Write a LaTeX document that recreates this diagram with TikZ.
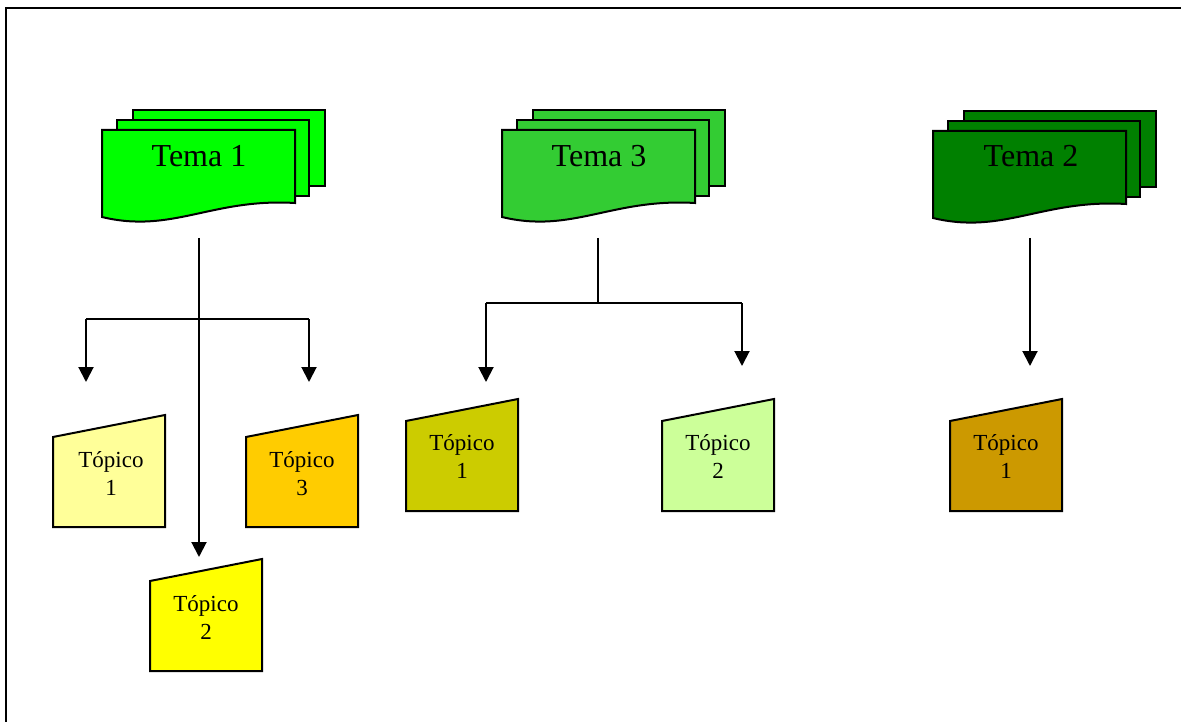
\documentclass[tikz,border=0pt]{standalone}
\usepackage{fontspec}
\setmainfont{Liberation Serif}
\usetikzlibrary{arrows.meta}
\definecolor{temaA}{HTML}{00FF00}
\definecolor{temaB}{HTML}{33CC33}
\definecolor{temaC}{HTML}{008000}
\definecolor{topA}{HTML}{FFFF99}
\definecolor{topB}{HTML}{FFFF00}
\definecolor{topC}{HTML}{FFCC00}
\definecolor{topD}{HTML}{CCCC00}
\definecolor{topE}{HTML}{CCFF99}
\definecolor{topF}{HTML}{CC9900}
\tikzset{
  shapeline/.style={draw=black, line width=2pt, line join=miter},
  arr/.style={line width=2pt, -{Triangle[width=15pt,length=15pt]}},
  plain/.style={line width=2pt},
  tematext/.style={font=\fontsize{32}{38}\selectfont, anchor=base, inner sep=0pt},
  toptext/.style={font=\fontsize{23}{28}\selectfont, align=center, inner sep=0pt},
  multidoc/.pic={
    \path[shapeline, fill=#1] (31,-20) rectangle (223,56);
    \path[shapeline, fill=#1] (15,-10) rectangle (207,66);
    \path[shapeline, fill=#1] (0,0) -- (193,0) -- (193,73)
      .. controls (110,68) and (70,104) .. (0,87) -- cycle;
  },
  topico/.pic={
    \path[shapeline, fill=#1] (0,22) -- (112,0) -- (112,112) -- (0,112) -- cycle;
  }
}
\begin{document}
\begin{tikzpicture}[x=1pt,y=-1pt]
\useasboundingbox (0,0) rectangle (1181,722);
\draw[line width=2.6pt] (6,722) -- (6,8) -- (1181,8);

% Temas
\pic at (102,130) {multidoc=temaA};
\pic at (502,130) {multidoc=temaB};
\pic at (933,131) {multidoc=temaC};
\node[tematext] (tema1) at (199,167) {Tema 1};
\node[tematext] (tema3) at (599,167) {Tema 3};
\node[tematext] (tema2) at (1031,167) {Tema 2};

% Topicos
\pic at (53,415) {topico=topA};
\pic at (246,415) {topico=topC};
\pic at (150,559) {topico=topB};
\pic at (406,399) {topico=topD};
\pic at (662,399) {topico=topE};
\pic at (950,399) {topico=topF};
\node[toptext] (a1) at (111,474) {Tópico\\1};
\node[toptext] (a3) at (302,474) {Tópico\\3};
\node[toptext] (a2) at (206,617) {Tópico\\2};
\node[toptext] (b1) at (462,457) {Tópico\\1};
\node[toptext] (b2) at (718,457) {Tópico\\2};
\node[toptext] (c1) at (1006,457) {Tópico\\1};

% connector points
\coordinate (s1) at (199,238);
\coordinate (j1) at (199,319);
\coordinate (l1) at (86,319);
\coordinate (r1) at (309,319);
\coordinate (ta1) at (86,382);
\coordinate (ta3) at (309,382);
\coordinate (ta2) at (199,557);
\coordinate (s3) at (598,238);
\coordinate (j3) at (598,303);
\coordinate (l3) at (486,303);
\coordinate (r3) at (742,303);
\coordinate (tb1) at (486,382);
\coordinate (tb2) at (742,366);
\coordinate (s2) at (1030,238);
\coordinate (tc1) at (1030,366);

\draw[arr] (s1) -- (ta2);
\draw[plain] (l1) -- (r1);
\draw[arr] (l1) -- (ta1);
\draw[arr] (r1) -- (ta3);
\draw[plain] (s3) -- (j3);
\draw[plain] (l3) -- (r3);
\draw[arr] (l3) -- (tb1);
\draw[arr] (r3) -- (tb2);
\draw[arr] (s2) -- (tc1);
\end{tikzpicture}
\end{document}
